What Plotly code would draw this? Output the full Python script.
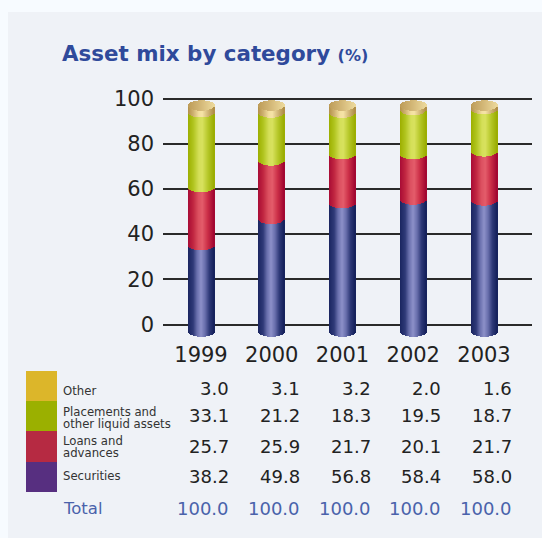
import math
import plotly.graph_objects as go

# ---------- data ----------
years = ["1999", "2000", "2001", "2002", "2003"]
securities = [38.2, 49.8, 56.8, 58.4, 58.0]
loans = [25.7, 25.9, 21.7, 20.1, 21.7]
placements = [33.1, 21.2, 18.3, 19.5, 18.7]
other = [3.0, 3.1, 3.2, 2.0, 1.6]
totals = [100.0, 100.0, 100.0, 100.0, 100.0]
y_ticks = [0, 20, 40, 60, 80, 100]

# ---------- layout geometry ----------
W, H = 542, 538
PX_PER_UNIT = 2.26
Y0_PX = 324.5
PLOT_TOP, PLOT_BOTTOM = 95, 340
PLOT_LEFT, PLOT_RIGHT = 163, 532
CAT_STEP = 70.75
CAT0_PX = 201
BAR_W = 26
BASE_SHIFT = -3.1      # cylinders stand slightly below the zero line
DROP = 2.3             # ellipse semi-axis, axis units

def hex2rgb(h):
    return tuple(int(h[i:i + 2], 16) for i in (1, 3, 5))

def ramp(stops, t):
    for (a, ca), (b, cb) in zip(stops, stops[1:]):
        if t <= b:
            f = (t - a) / (b - a)
            ra, rb = hex2rgb(ca), hex2rgb(cb)
            return "rgb(%d,%d,%d)" % tuple(round(x + (y - x) * f) for x, y in zip(ra, rb))
    return stops[-1][1]

blue = [(0, "#1a2560"), (.2, "#2f3a78"), (.35, "#6a70ad"), (.5, "#8c90c8"), (.65, "#6a70ad"), (.82, "#2f3a78"), (1, "#14205a")]
red = [(0, "#a80b35"), (.2, "#c02640"), (.4, "#dc5060"), (.55, "#e45c6a"), (.75, "#cc3048"), (1, "#a00530")]
green = [(0, "#9cae00"), (.2, "#b0c41e"), (.42, "#d4df58"), (.55, "#d8e25e"), (.78, "#b4c626"), (1, "#9aac00")]
gold = [(0, "#b4914a"), (.2, "#cdb070"), (.42, "#f3dfa0"), (.55, "#f5e3a6"), (.78, "#cfb374"), (1, "#ae8c44")]
lid = [(0, "#bd9c58"), (.45, "#d2b676"), (1, "#ecd99c")]

fig = go.Figure()

n = len(years)
xs = list(range(n))
x_w = 1 / CAT_STEP           # one pixel in category units
series = [(securities, blue), (loans, red), (placements, green), (other, gold)]
STRIPS = BAR_W

for s in range(STRIPS):
    left = -BAR_W / 2 + s
    u = (left + 0.5) / (BAR_W / 2)
    depth = DROP * math.sqrt(max(0, 1 - u * u))
    t = (u + 1) / 2
    cum = [BASE_SHIFT - depth] * n
    for vals, stops in series:
        fig.add_trace(go.Bar(
            x=xs, y=vals, base=cum, width=1.35 * x_w, offset=left * x_w,
            marker=dict(color=ramp(stops, t), line=dict(width=0)),
            showlegend=False, hoverinfo="skip"))
        cum = [c + v for c, v in zip(cum, vals)]
    # round lid on top of the stack
    tops = [c + depth for c in cum]
    fig.add_trace(go.Bar(
        x=xs, y=[2 * depth * 1.0] * n, base=[tp - depth for tp in tops],
        width=1.35 * x_w, offset=left * x_w,
        marker=dict(color=ramp(lid, t), line=dict(width=0)),
        showlegend=False, hoverinfo="skip"))

NUM_FONT = "DejaVu Sans"
LABEL_FONT = "DejaVu Sans"
TEXT = "#222222"
BLUE_TXT = "#4a62ab"

def px_x(p): return p / W
def px_y(p): return 1 - p / H

ann = []
def row(values, y_px, color):
    for i, v in enumerate(values):
        ann.append(dict(x=i, xref="x", xshift=30, y=px_y(y_px), yref="paper",
                        text="%.1f" % v, showarrow=False, xanchor="right", yanchor="middle",
                        font=dict(family=NUM_FONT, size=18, color=color)))

row(other, 388, TEXT)
row(placements, 415, TEXT)
row(loans, 446, TEXT)
row(securities, 476, TEXT)
row(totals, 508, BLUE_TXT)

def label(text, y_px, size=11.7, color="#333333"):
    ann.append(dict(x=px_x(61), xref="paper", y=px_y(y_px), yref="paper", text=text,
                    showarrow=False, xanchor="left", yanchor="middle", xshift=0,
                    font=dict(family=LABEL_FONT, size=size, color=color)))

label("Other", 391)
label("Placements and", 412)
label("other liquid assets", 424)
label("Loans and", 441)
label("advances", 453)
label("Securities", 476)
label("Total", 508, 16.5, BLUE_TXT)

ann.append(dict(x=px_x(60), xref="paper", y=px_y(53), yref="paper", showarrow=False,
                xanchor="left", yanchor="middle",
                text="Asset mix by category <span style='font-size:16px'>(%)</span>",
                font=dict(family="DejaVu Sans", size=21.4, color="#2f4a9b", weight="bold")))

shapes = [dict(type="rect", xref="paper", yref="paper", layer="below",
               x0=px_x(8), x1=1, y0=0, y1=px_y(12),
               fillcolor="#eff2f7", line_width=0)]
for y0, y1, c in [(371, 401, "#dcb62a"), (401, 431, "#9bb000"), (431, 462, "#b62a42"), (462, 492, "#572f80")]:
    shapes.append(dict(type="rect", xref="paper", yref="paper", layer="below",
                       x0=px_x(26), x1=px_x(57), y0=px_y(y1), y1=px_y(y0),
                       fillcolor=c, line_width=0))

fig.update_layout(
    width=W, height=H, autosize=False,
    margin=dict(l=0, r=0, t=0, b=0, autoexpand=False),
    paper_bgcolor="#f7fbff", plot_bgcolor="rgba(0,0,0,0)",
    barmode="overlay", bargap=0,
    shapes=shapes, annotations=ann,
    xaxis=dict(
        domain=[px_x(PLOT_LEFT), px_x(PLOT_RIGHT)],
        range=[(PLOT_LEFT - CAT0_PX) / CAT_STEP, (PLOT_RIGHT - CAT0_PX) / CAT_STEP],
        tickmode="array", tickvals=xs, ticktext=years, showgrid=False, zeroline=False,
        showline=False, ticks="", tickfont=dict(family=NUM_FONT, size=21, color=TEXT)),
    yaxis=dict(
        domain=[px_y(PLOT_BOTTOM), px_y(PLOT_TOP)],
        range=[(Y0_PX - PLOT_BOTTOM) / PX_PER_UNIT, (Y0_PX - PLOT_TOP) / PX_PER_UNIT],
        tickmode="array", tickvals=y_ticks, showgrid=True, gridcolor="#2a2a2a", gridwidth=1.5,
        zeroline=False, showline=False, ticks="", ticklabelstandoff=8,
        tickfont=dict(family=NUM_FONT, size=21, color=TEXT)),
)
fig.write_html("out.html", config={"displayModeBar": False},
               post_script="document.body.style.margin='0';document.documentElement.style.overflow='hidden';")
